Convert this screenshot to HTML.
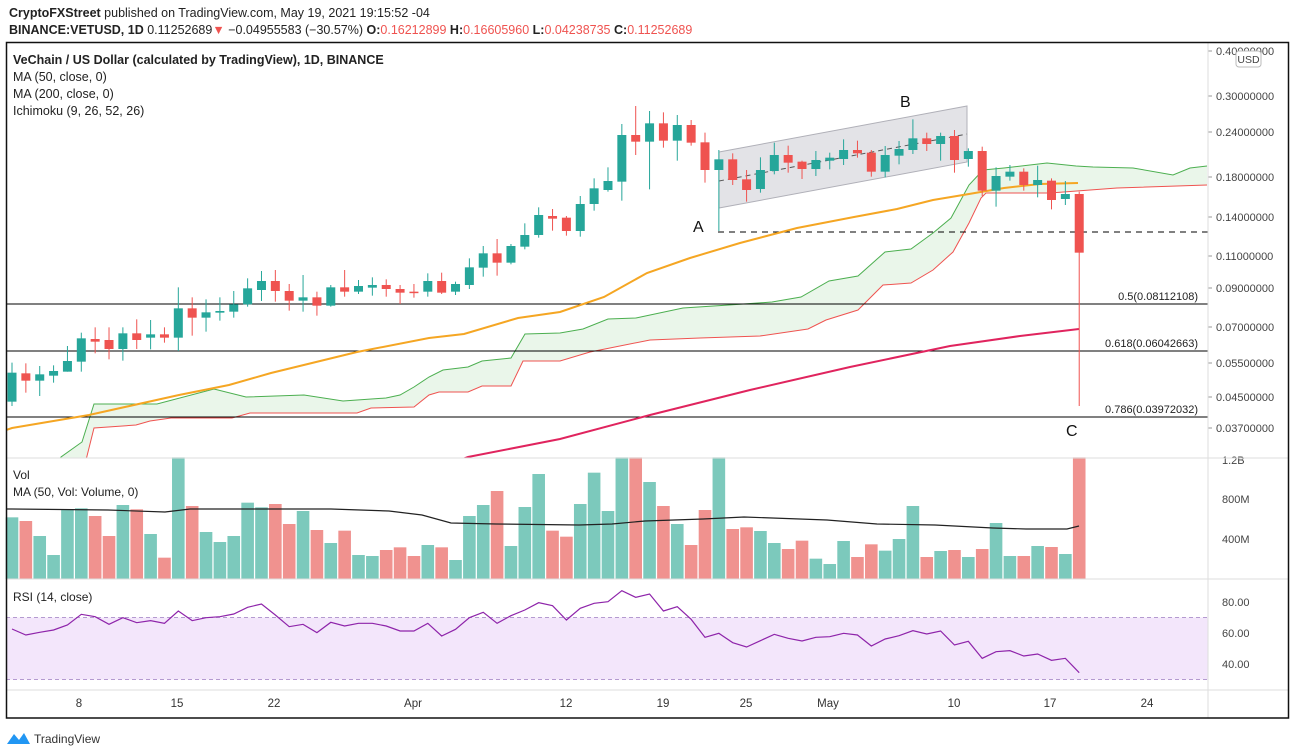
<!DOCTYPE html>
<html><head><meta charset="utf-8"><style>
html,body{margin:0;padding:0;background:#fff;}
body{width:1296px;height:755px;overflow:hidden;position:relative;font-family:"Liberation Sans",sans-serif;}
svg{position:absolute;left:0;top:0;}
</style></head><body>
<svg id="s" width="1296" height="755" xmlns="http://www.w3.org/2000/svg" font-family="Liberation Sans, sans-serif">
<text x="9" y="17" font-size="12.5" fill="#222"><tspan font-weight="bold">CryptoFXStreet</tspan> published on TradingView.com, May 19, 2021 19:15:52 -04</text>
<text x="9" y="34" font-size="12.5" fill="#222"><tspan font-weight="bold">BINANCE:VETUSD, 1D</tspan> 0.11252689<tspan fill="#ef5350">▼</tspan> −0.04955583 (−30.57%) <tspan font-weight="bold">O:</tspan><tspan fill="#ef5350">0.16212899</tspan> <tspan font-weight="bold">H:</tspan><tspan fill="#ef5350">0.16605960</tspan> <tspan font-weight="bold">L:</tspan><tspan fill="#ef5350">0.04238735</tspan> <tspan font-weight="bold">C:</tspan><tspan fill="#ef5350">0.11252689</tspan></text>
<g id="g"></g>
</svg>
<script>
var NS="http://www.w3.org/2000/svg",G=document.getElementById('g');
function el(t,a,txt){var e=document.createElementNS(NS,t);for(var k in a)e.setAttribute(k,a[k]);if(txt!=null)e.textContent=txt;G.appendChild(e);return e;}
function X(i){return 12+13.86*i;}
function pts(a){return a.map(function(p){return p[0]+','+p[1]}).join(' ');}
// Ichimoku cloud
var gA=[[61,457],[82,442],[94,404],[157,404],[214,389],[246,397],[304,395],[343,401],[386,398],[400,395],[414,387],[429,377],[443,370],[468,367],[482,361],[511,358],[525,334],[560,333],[583,329],[608,319],[636,318],[683,308],[729,305],[772,302],[801,297],[829,281],[858,276],[885,252],[911,249],[933,233],[951,218],[969,185],[983,170],[1004,168],[1047,163],[1076,166],[1093,167],[1133,168],[1173,175],[1190,168],[1207,166]];
var rB=[[86,460],[94,428],[136,425],[150,421],[171,418],[232,418],[250,413],[357,413],[371,408],[414,407],[429,395],[439,392],[468,392],[482,386],[511,386],[523,361],[560,361],[590,352],[650,340],[700,338],[760,336],[808,329],[826,320],[858,310],[883,285],[911,283],[933,270],[953,252],[969,223],[981,198],[986,193],[1050,193],[1117,188],[1207,185]];
el('clipPath',{id:'cp'});
var cp=document.getElementById('cp');var rr=document.createElementNS(NS,'rect');rr.setAttribute('x',6);rr.setAttribute('y',42);rr.setAttribute('width',1202);rr.setAttribute('height',416);cp.appendChild(rr);
var pg=el('g',{'clip-path':'url(#cp)'});
function pel(t,a){var e=el(t,a);pg.appendChild(e);return e;}
pel('polygon',{points:pts([[55,470]].concat(gA).concat(rB.slice().reverse()).concat([[80,470]])),fill:'#e6f5e6',opacity:0.85});
pel('polyline',{points:pts([[55,470]].concat(gA)),fill:'none',stroke:'#4caf50','stroke-width':1});
pel('polyline',{points:pts([[84,470]].concat(rB)),fill:'none',stroke:'#ef5350','stroke-width':1});
// Fib lines
[[304,'0.5(0.08112108)'],[351,'0.618(0.06042663)'],[417,'0.786(0.03972032)']].forEach(function(f){pel('line',{x1:6,x2:1208,y1:f[0],y2:f[0],stroke:'#000','stroke-width':1});el('text',{x:1198,y:f[0]-4,'font-size':11,'text-anchor':'end',fill:'#222'},f[1]);});
// channel
pel('polygon',{points:'719,152 967,106 967,162 719,208',fill:'#c8c8d0','fill-opacity':0.5,stroke:'#b0b0b8','stroke-width':1});
pel('line',{x1:719,y1:181,x2:967,y2:134,stroke:'#555','stroke-width':1,'stroke-dasharray':'5,4'});
pel('line',{x1:718,y1:232,x2:1208,y2:232,stroke:'#000','stroke-width':1,'stroke-dasharray':'6,5'});
// MAs
pel('polyline',{points:pts([[6,430],[12,428],[89,415],[179,395],[229,385],[271,373],[357,352],[429,338],[464,334],[518,318],[560,312],[604,297],[647,273],[690,258],[740,243],[797,228],[854,217],[897,209],[933,200],[969,194],[1004,188],[1040,184],[1078,183]]),fill:'none',stroke:'#f5a623','stroke-width':2});
pel('polyline',{points:pts([[460,460],[468,457],[560,439],[650,415],[750,390],[850,367],[950,346],[1020,336],[1079,329]]),fill:'none',stroke:'#e0245e','stroke-width':2});
// candles
var C=[[1,848,935,818,948],[0,850,872,820,908],[1,853,872,828,918],[1,843,857,826,878],[1,813,845,768,845],[1,745,815,728,845],[0,747,755,712,790],[0,750,777,712,808],[1,730,777,712,812],[0,730,750,688,777],[1,733,743,690,778],[0,733,743,712,758],[1,655,743,592,783],[0,655,683,622,737],[1,667,683,628,725],[1,663,668,622,692],[1,643,665,603,683],[1,595,643,565,650],[1,573,600,543,633],[0,573,603,540,635],[0,603,632,582,662],[1,622,632,555,665],[0,622,647,605,677],[1,592,647,585,650],[0,592,605,540,620],[1,588,605,570,612],[1,585,593,562,617],[0,585,597,568,620],[0,597,608,585,642],[0,605,607,582,623],[1,573,605,550,620],[0,573,608,548,612],[1,582,605,575,615],[1,532,585,505,597],[1,490,533,468,560],[0,490,518,447,557],[1,468,518,462,523],[1,435,470,400,478],[1,375,435,352,443],[0,378,386,357,422],
[0,383,423,378,437],[1,342,423,318,440],[1,295,342,265,362],[1,273,300,232,305],[1,135,275,102,332],[0,135,155,48,195],[1,100,155,63,298],[0,100,152,67,173],[1,105,152,75,212],[0,105,158,90,167],[0,157,240,128,278],[1,208,240,180,423],[0,208,270,190,285],[0,268,300,240,335],[1,240,297,202,308],[1,195,243,158,253],[0,195,218,167,248],[0,215,237,212,267],[1,210,237,183,258],[1,203,212,188,238],[1,180,207,148,225],[0,180,190,152,203],[0,188,245,180,260],[1,195,245,168,262],[1,177,197,153,223],[1,145,180,88,192],[0,145,162,128,183],[1,138,162,128,212],[0,138,210,120,248],[1,183,207,175,230],[0,183,302,170,318],[1,258,302,232,350],[1,245,260,225,272],[0,245,285,235,302],[1,270,285,227,322],[0,272,330,265,358],[1,312,327,273,345],[0,312,488,305,948]];
C.forEach(function(c,i){var x=X(i),col=c[0]?'#26a69a':'#ef5350';function Y(v){return 90+v/3;}
pel('line',{x1:x,x2:x,y1:Y(c[3]),y2:Y(c[4]),stroke:col,'stroke-width':1});
var t=Y(c[1]),b=Y(c[2]);if(b-t<1.5)b=t+1.5;pel('rect',{x:x-4.5,y:t,width:9,height:b-t,fill:col});});
// labels
el('text',{x:693,y:232,'font-size':16,fill:'#111'},'A');
el('text',{x:900,y:107,'font-size':16,fill:'#111'},'B');
el('text',{x:1066,y:436,'font-size':16,fill:'#111'},'C');
// legend
el('text',{x:13,y:64,'font-size':12.5,fill:'#222','font-weight':'bold'},'VeChain / US Dollar (calculated by TradingView), 1D, BINANCE');
el('text',{x:13,y:81,'font-size':12.5,fill:'#222'},'MA (50, close, 0)');
el('text',{x:13,y:98,'font-size':12.5,fill:'#222'},'MA (200, close, 0)');
el('text',{x:13,y:115,'font-size':12.5,fill:'#222'},'Ichimoku (9, 26, 52, 26)');
// price axis
[[51,'0.40000000'],[96,'0.30000000'],[132,'0.24000000'],[177,'0.18000000'],[217,'0.14000000'],[256,'0.11000000'],[288,'0.09000000'],[327,'0.07000000'],[363,'0.05500000'],[397,'0.04500000'],[428,'0.03700000']].forEach(function(t){el('line',{x1:1208,x2:1212,y1:t[0],y2:t[0],stroke:'#999'});el('text',{x:1216,y:t[0]+4,'font-size':11,fill:'#444'},t[1]);});
el('rect',{x:1236,y:51,width:25,height:16,rx:3,fill:'#fff',stroke:'#bbb'});
el('text',{x:1248.5,y:63,'font-size':10.5,'text-anchor':'middle',fill:'#444'},'USD');
// volume
var V=[[1,232],[0,243],[1,288],[1,345],[1,210],[1,205],[0,228],[0,288],[1,195],[0,208],[1,282],[0,353],[1,52],[0,198],[1,276],[1,306],[1,288],[1,188],[1,202],[0,192],[0,252],[1,213],[0,270],[1,309],[0,272],[1,345],[1,348],[0,330],[0,322],[0,348],[1,315],[0,322],[1,360],[1,228],[1,195],[0,153],[1,318],[1,201],[1,102],[0,272],[0,290],[1,192],[1,98],[1,213],[1,52],[0,52],[1,126],[0,198],[1,252],[0,315],[0,210],[1,52],[0,267],[0,262],[1,273],[1,309],[0,327],[0,302],[1,356],[1,372],[1,303],[0,351],[0,313],[1,332],[1,297],[1,198],[0,351],[1,333],[0,330],[1,351],[0,327],[1,249],[1,348],[0,348],[1,318],[0,321],[1,342],[0,52]];
V.forEach(function(v,i){var t=440+v[1]/3;el('rect',{x:X(i)-6.3,y:t,width:12.6,height:579-t,fill:v[0]?'#7cc9bc':'#f0928f'});});
el('polyline',{points:pts([[6,509],[12,509],[108,510],[165,512],[190,509],[331,509],[389,511],[422,515],[451,523],[496,524],[579,525],[612,524],[645,521],[703,519],[744,517],[827,520],[877,524],[935,525],[993,528],[1026,529],[1067,529],[1079,526]]),fill:'none',stroke:'#222','stroke-width':1.2});
el('text',{x:13,y:479,'font-size':12,fill:'#222'},'Vol');
el('text',{x:13,y:496,'font-size':12,fill:'#222'},'MA (50, Vol: Volume, 0)');
[[460,'1.2B'],[499,'800M'],[539,'400M']].forEach(function(t){el('text',{x:1222,y:t[0]+4,'font-size':11,fill:'#444'},t[1]);});
// RSI
el('rect',{x:6,y:617.5,width:1202,height:62,fill:'#f3e6fb'});
[617.5,679.5].forEach(function(y){el('line',{x1:6,x2:1208,y1:y,y2:y,stroke:'#b49ad0','stroke-dasharray':'4,3'});});
var R=[567,585,577,570,555,523,530,553,533,548,542,550,513,542,533,530,522,502,492,525,560,553,578,547,558,550,550,558,573,573,550,588,568,533,517,550,527,510,488,497,540,505,490,485,452,472,462,513,500,538,592,580,608,621,602,583,595,603,592,590,580,585,618,597,587,572,582,573,615,604,655,635,632,648,642,661,655,698];
el('polyline',{points:R.map(function(v,i){return X(i)+','+(440+v/3)}).join(' '),fill:'none',stroke:'#8e24aa','stroke-width':1.2});
el('text',{x:13,y:601,'font-size':12,fill:'#222'},'RSI (14, close)');
[[602,'80.00'],[633,'60.00'],[664,'40.00']].forEach(function(t){el('text',{x:1222,y:t[0]+4,'font-size':11,fill:'#444'},t[1]);});
// pane separators & frame
el('line',{x1:6,x2:1289,y1:458,y2:458,stroke:'#ddd'});
el('line',{x1:6,x2:1289,y1:579,y2:579,stroke:'#ddd'});
el('line',{x1:6,x2:1289,y1:690,y2:690,stroke:'#ddd'});
el('line',{x1:1208,x2:1208,y1:42,y2:718,stroke:'#ddd'});
el('rect',{x:6.5,y:42.5,width:1282,height:675.5,fill:'none',stroke:'#111','stroke-width':1.5});
// time axis
[[79,'8'],[177,'15'],[274,'22'],[413,'Apr'],[566,'12'],[663,'19'],[746,'25'],[828,'May'],[954,'10'],[1050,'17'],[1147,'24']].forEach(function(t){el('text',{x:t[0],y:707,'font-size':11.5,'text-anchor':'middle',fill:'#333'},t[1]);});
// logo
el('path',{d:'M7,744 L14,734 L19,740 L24,733 L30,744 Z',fill:'#2196f3'});
el('text',{x:34,y:743,'font-size':12,fill:'#333'},'TradingView');
</script>
</body></html>
